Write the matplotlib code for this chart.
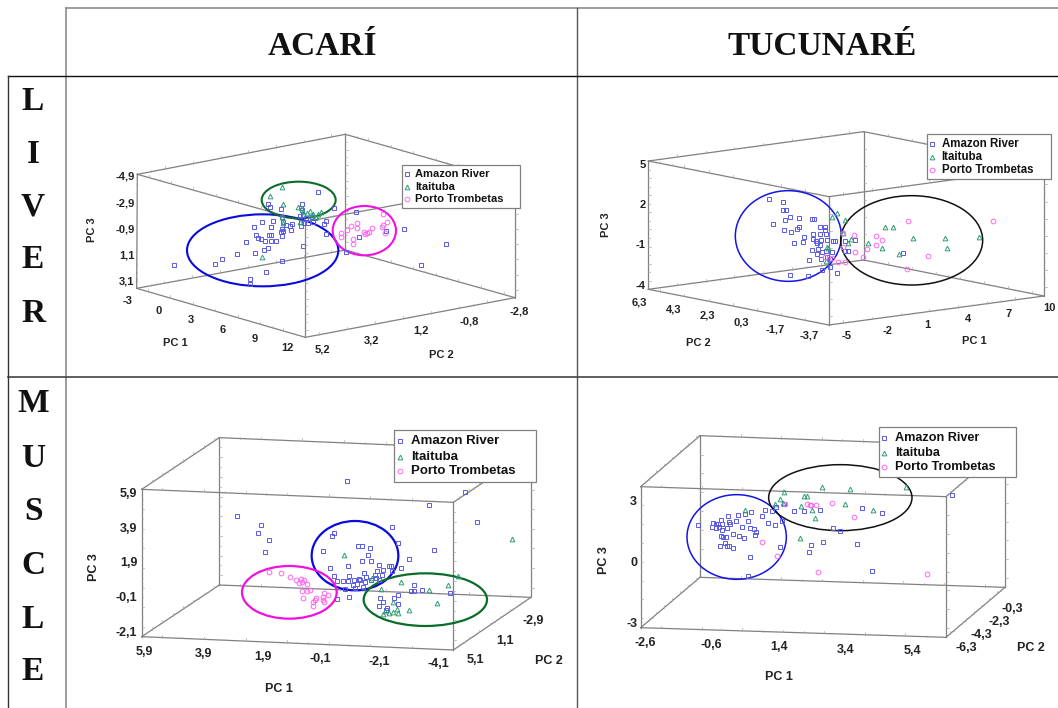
#!/usr/bin/env python3
"""PCA score plots per fish species and tissue, laid out in a table."""
import matplotlib
matplotlib.use('Agg')
import matplotlib.pyplot as plt
import matplotlib.patches as patches

W, H = 1058, 708
SANS = 'Liberation Sans'
SERIF = 'Liberation Serif'
BLUE = '#5a5ae6'
GREEN = '#2f9e72'
PINK = '#ff66ee'
GREY = '#808080'

species = ['ACARÍ', 'TUCUNARÉ']
tissue_liver = list('LIVER')
tissue_muscle = list('MUSCLE')
legend_names = ['Amazon River', 'Itaituba', 'Porto Trombetas']

# Acari liver, projected plot coordinates
al_blue = [(311,555),(436,551),(457,538),(501,523),(541,597),(541,613),(587,576),(554,520),(637,543),(581,509),
           (594,503),(529,486),(551,440),(575,427),(609,424),(602,440),(603,441),(558,465),(565,473),(573,478),
           (585,483),(602,466),(597,466),(603,482),(617,482),(632,456),(640,452),(635,467),(637,447),(647,436),
           (660,438),(666,432),(662,451),(640,427),(692,438),(694,425),(702,430),(715,428),(728,425),(763,433),
           (767,462),(767,422),(700,497),(743,335),(595,373),(600,381),(632,388),(635,410),(697,373),(693,385),
           (697,390),(690,408),(700,405),(708,415),(725,410),(735,415),(793,383),(859,397),(868,472),(947,453),
           (1002,446),(1127,492),(1054,554),(828,516)]
al_green = [(635,320),(600,347),(638,371),(577,531),(684,382),(695,385),(720,392),(752,395),(745,403),(730,403),
            (710,400),(700,395),(640,428),(690,425),(635,412),(738,410),(725,405)]
al_pink = [(812,458),(814,471),(832,450),(843,438),(862,429),(860,443),(850,476),(850,493),(882,456),(884,463),
           (890,458),(897,456),(905,445),(936,440),(940,435),(950,426),(938,403),(944,460)]

# Tucunare liver
tl_blue = [(566,357),(610,365),(610,389),(618,389),(630,411),(614,419),(656,415),(695,418),(703,418),(580,432),
           (612,450),(633,455),(651,447),(657,440),(719,442),(735,442),(735,450),(673,471),(700,461),(720,461),
           (738,461),(642,488),(670,486),(700,478),(708,483),(722,480),(740,480),(712,490),(720,495),(695,510),
           (715,508),(710,522),(725,515),(738,512),(755,515),(688,539),(722,536),(740,530),(760,483),(765,482),
           (795,482),(825,481),(805,512),(795,512),(970,519),(631,584),(684,588),(727,570),(750,560),(772,580),
           (750,538)]
tl_green = [(755,410),(772,400),(795,420),(915,442),(938,442),(790,458),(863,490),(803,489),(812,478),(906,505),
            (998,474),(1095,473),(1100,503),(1197,470),(958,523),(740,500),(745,505),(738,543)]
tl_pink = [(984,424),(1240,423),(823,465),(889,468),(906,480),(888,494),(860,508),(825,517),(850,530),(790,500),
           (790,460),(1043,527),(981,566),(795,545),(775,545),(755,535),(735,530)]

# Acari muscle
am_blue = [(830,302),(1184,335),(1078,376),(501,409),(572,434),(565,460),(598,479),(584,517),(1222,426),(965,441),
           (984,490),(1093,509),(1018,537),(791,460),(786,467),(865,499),(876,497),(901,505),(894,524),(758,514),
           (877,543),(902,544),(834,558),(779,564),(926,556),(957,557),(962,558),(992,564),(938,569),(921,573),
           (965,572),(881,579),(935,585),(915,584),(793,588),(838,587),(889,590),(902,600),(918,595),(800,604),
           (820,603),(835,603),(852,599),(866,597),(870,600),(885,606),(928,601),(850,615),(862,612),(880,622),
           (825,628),(855,625),(802,656),(836,652),(930,653),(938,667),(927,677),(972,653),(984,646),(984,673),
           (1033,616),(1033,633),(1024,632),(1055,631),(1140,640),(952,685),(948,690)]
am_green = [(822,525),(1327,478),(1165,587),(992,605),(1135,616),(1076,631),(1102,668),(932,628),(970,665),(1017,689),
            (982,688),(985,699),(968,695),(958,699),(940,703),(946,693),(905,595)]
am_pink = [(597,576),(632,579),(661,591),(677,599),(692,597),(702,600),(688,609),(695,605),(712,612),(720,631),
           (697,633),(710,634),(698,655),(737,655),(734,660),(730,665),(758,660),(763,640),(775,645),(760,650),
           (762,666),(730,677)]

# Tucunare muscle
tm_blue = [(353,434),(395,440),(398,430),(408,432),(408,445),(415,432),(423,421),(425,433),(416,440),(445,408),
           (447,425),(450,432),(475,405),(494,401),(513,397),(468,424),(441,445),(425,450),(422,467),(430,470),
           (437,470),(460,463),(485,440),(505,423),(511,444),(522,447),(525,465),(528,457),(478,467),(491,474),
           (420,497),(435,490),(441,497),(446,498),(459,505),(545,409),(556,389),(577,394),(588,380),(612,372),
           (565,429),(584,436),(606,424),(601,500),(511,531),(503,587),(641,392),(672,393),(720,390),(845,383),
           (907,398),(759,445),(779,452),(693,496),(729,487),(688,517),(831,493),(876,574),(1117,346)]
tm_green = [(495,390),(613,336),(601,356),(584,373),(672,347),(681,347),(727,320),(811,327),(977,322),(664,378),
            (696,391),(795,371),(878,389),(704,415),(659,475),(610,370)]
tm_pink = [(615,371),(680,373),(690,376),(694,376),(707,376),(755,369),(823,410),(547,487),(592,528),(715,575),
           (1041,581)]

# Tick labels as (text, x, y)
al_ticks = [('-4,9',165,290),('-2,9',165,370),('-0,9',165,449),('1,1',170,528),('3,1',170,606),
            ('-3',172,664),('0',267,693),('3',363,720),('6',458,749),('9',554,776),('12',652,804),
            ('5,2',757,808),('3,2',905,780),('1,2',1054,751),('-0,8',1199,723),('-2,8',1347,695)]
tl_ticks = [('5',189,255),('2',189,376),('-1',183,496),('-4',183,618),
            ('6,3',178,667),('4,3',280,688),('2,3',383,707),('0,3',484,727),('-1,7',586,748),('-3,7',688,768),
            ('-5',800,768),('-2',922,753),('1',1043,736),('4',1165,718),('7',1285,702),('10',1408,685)]
am_ticks = [('5,9',176,341),('3,9',176,446),('1,9',176,549),('-0,1',168,654),('-2,1',168,758),
            ('5,9',224,815),('3,9',401,822),('1,9',578,830),('-0,1',752,838),('-2,1',928,845),('-4,1',1104,852),
            ('5,1',1216,841),('1,1',1305,782),('-2,9',1391,724)]
tm_ticks = [('3',161,366),('0',161,549),('-3',155,733),
            ('-2,6',195,790),('-0,6',395,795),('1,4',597,802),('3,4',797,809),('5,4',998,814),
            ('-6,3',1160,804),('-4,3',1204,766),('-2,3',1258,727),('-0,3',1297,688)]


def draw_panel(origin, size, box, points, ticks, labels, ellipses, ring_lw, tick_fs, legend):
    x0, y0 = origin
    w, h = size
    ax = fig.add_axes([x0 / W, 1 - (y0 + h) / H, w / W, h / H])
    ax.set_xlim(0, w * 3)
    ax.set_ylim(h * 3, 0)
    ax.axis('off')

    # box corners: left, back, right, front, each as top and bottom
    lt, bt, rt, ft, lb, bb, rb, fb = box
    edges = [(lt, bt), (bt, rt), (rt, ft), (ft, lt), (lb, bb), (bb, rb), (rb, fb), (fb, lb),
             (lt, lb), (bt, bb), (rt, rb), (ft, fb)]
    for a, b in edges:
        ax.plot([a[0], b[0]], [a[1], b[1]], color=GREY, lw=0.9, zorder=1)
        for i in range(1, 15):
            t = i / 15
            px, py = a[0] + (b[0] - a[0]) * t, a[1] + (b[1] - a[1]) * t
            size_t = 4 if i % 2 else 8
            if a[0] == b[0]:
                ax.plot([px, px + size_t], [py, py], color='#aaaaaa', lw=0.5, zorder=1)
            else:
                ax.plot([px, px], [py, py - size_t], color='#aaaaaa', lw=0.5, zorder=1)

    for (cx, cy, ew, eh, col) in ellipses:
        ax.add_patch(patches.Ellipse((cx, cy), ew, eh, fill=False, edgecolor=col, lw=ring_lw, zorder=3))

    blue, green, pink = points
    style = dict(ls='none', mfc='none', mew=0.7, ms=3.4, zorder=4)
    ax.plot(*zip(*blue), marker='s', mec=BLUE, **style)
    ax.plot(*zip(*green), marker='^', mec=GREEN, **style)
    ax.plot(*zip(*pink), marker='o', mec=PINK, **style)

    for txt, tx, ty in ticks:
        ax.text(tx, ty, txt, family=SANS, weight='bold', fontsize=tick_fs, ha='center', va='center', color='#222222')
    for txt, tx, ty, rot in labels:
        ax.text(tx, ty, txt, family=SANS, weight='bold', fontsize=tick_fs, ha='center', va='center',
                rotation=rot, color='#222222')

    # legend box
    lx0, ly0, lx1, ly1, mx, tx, rows, fs = legend
    ax.add_patch(patches.Rectangle((lx0, ly0), lx1 - lx0, ly1 - ly0, facecolor='white',
                                   edgecolor='#808080', lw=0.9, zorder=5))
    for name, ry, mk, col in zip(legend_names, rows, 's^o', [BLUE, GREEN, PINK]):
        ax.plot([mx], [ry], marker=mk, ls='none', mfc='none', mec=col, mew=0.7, ms=3.4, zorder=6)
        ax.text(tx, ry, name, family=SANS, weight='bold', fontsize=fs, ha='left', va='center',
                color='#111111', zorder=6)


fig = plt.figure(figsize=(W / 100, H / 100), dpi=100)

# table lines
grid = fig.add_axes([0, 0, 1, 1])
grid.set_xlim(0, W)
grid.set_ylim(H, 0)
grid.axis('off')
grid.plot([66, W], [8, 8], color='#8c8c8c', lw=1.2)
grid.plot([66, 66], [8, H], color='#8c8c8c', lw=1.2)
grid.plot([577, 577], [8, H], color='#555555', lw=1)
grid.plot([8, W], [76, 76], color='#111111', lw=1)
grid.plot([8, W], [377, 377], color='#444444', lw=1.2)
grid.plot([8, 8], [76, H], color='#333333', lw=1)

grid.text(322, 55, species[0], family=SERIF, weight='bold', fontsize=24, ha='center', va='baseline', color='#111111')
grid.text(822, 55, species[1], family=SERIF, weight='bold', fontsize=24, ha='center', va='baseline', color='#111111')
for ch, y in zip(tissue_liver, [110, 163, 215, 268, 322]):
    grid.text(33, y, ch, family=SERIF, weight='bold', fontsize=24, ha='center', va='baseline', color='#111111')
for ch, y in zip(tissue_muscle, [412, 467, 520, 574, 628, 680]):
    grid.text(33, y, ch, family=SERIF, weight='bold', fontsize=24, ha='center', va='baseline', color='#111111')

draw_panel((70, 80), (505, 295),
           [(202,283),(826,163),(1335,309),(706,425),(200,625),(826,510),(1335,653),(706,772)],
           (al_blue, al_green, al_pink), al_ticks,
           [('PC 3',65,450,90),('PC 1',316,788,0),('PC 2',1114,824,0)],
           [(578,511,454,216,'#0a0ae0'),(686,360,222,110,'#0b6b2b'),(883,452,190,148,'#f010e0')],
           1.5, 8, (995,254,1351,384,1010,1036,[283,321,358],8))

draw_panel((580, 80), (478, 295),
           [(205,243),(851,155),(1392,262),(747,350),(205,628),(851,540),(1392,648),(747,735)],
           (tl_blue, tl_green, tl_pink), tl_ticks,
           [('PC 3',78,434,90),('PC 2',354,789,0),('PC 1',1184,783,0)],
           [(625,468,318,272,'#1414e6'),(995,481,426,268,'#111111')],
           1.1, 8, (1042,162,1414,296,1057,1085,[191,231,269],8.3))

draw_panel((70, 380), (505, 328),
           [(215,328),(448,173),(1383,212),(1150,367),(215,770),(448,615),(1383,652),(1150,810)],
           (am_blue, am_green, am_pink), am_ticks,
           [('PC 3',72,560,90),('PC 1',627,927,0),('PC 2',1438,842,0)],
           [(855,527,260,208,'#0a0ae0'),(658,637,284,158,'#f010e0'),(1066,659,370,158,'#0b6b2b')],
           1.6, 9, (973,150,1398,305,990,1022,[184,230,274],9.5))

draw_panel((580, 380), (478, 328),
           [(182,320),(360,167),(1275,200),(1098,350),(182,743),(360,592),(1275,622),(1098,772)],
           (tm_blue, tm_green, tm_pink), tm_ticks,
           [('PC 3',72,541,90),('PC 1',598,892,0),('PC 2',1353,804,0)],
           [(470,471,298,254,'#1414e6'),(781,353,430,198,'#111111')],
           1.1, 9, (896,140,1308,291,912,944,[174,218,261],9.1))

plt.savefig('out.png', dpi=100)
